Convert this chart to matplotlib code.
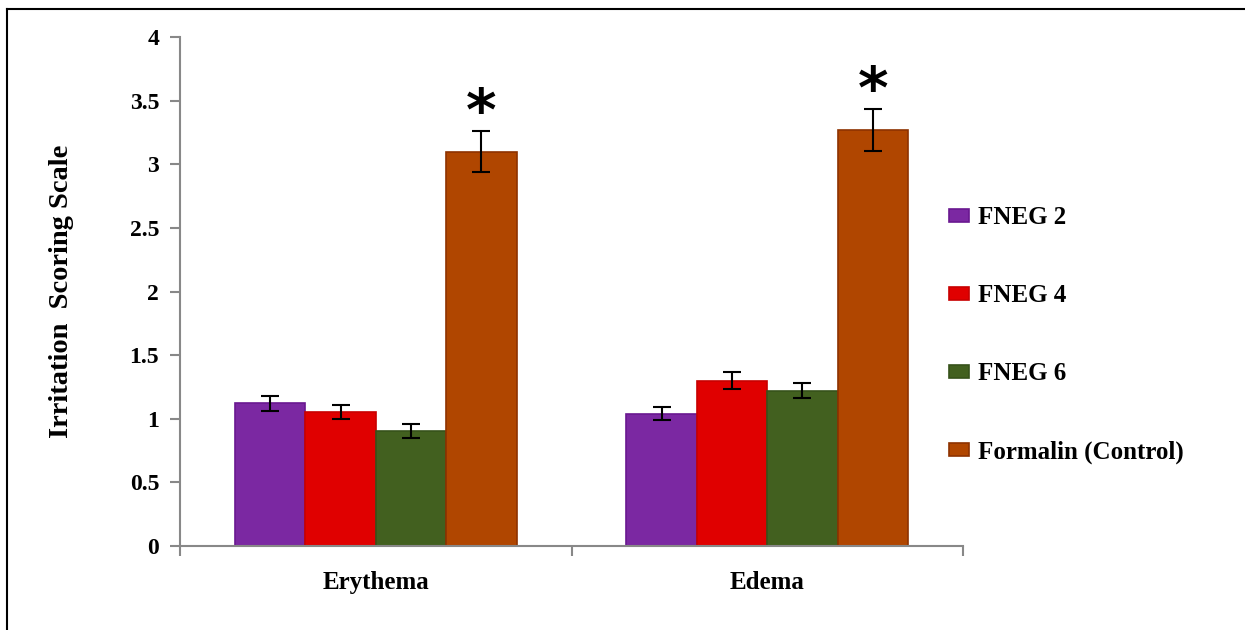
import numpy as np
import matplotlib
matplotlib.use('Agg')
import matplotlib.pyplot as plt
from matplotlib.lines import Line2D

categories = ['Erythema', 'Edema']
series = ['FNEG 2', 'FNEG 4', 'FNEG 6', 'Formalin (Control)']
values = {
    'FNEG 2': [1.12, 1.04],
    'FNEG 4': [1.05, 1.30],
    'FNEG 6': [0.90, 1.22],
    'Formalin (Control)': [3.10, 3.27],
}
errors = {
    'FNEG 2': [0.06, 0.05],
    'FNEG 4': [0.055, 0.07],
    'FNEG 6': [0.055, 0.06],
    'Formalin (Control)': [0.16, 0.165],
}
significant = ['Formalin (Control)']
yticks = [0, 0.5, 1, 1.5, 2, 2.5, 3, 3.5, 4]
ytick_labels = ['0', '0.5', '1', '1.5', '2', '2.5', '3', '3.5', '4']

colors = ['#7B28A2', '#E00000', '#42601F', '#B04600']
edges = ['#6A1890', '#C80000', '#36521A', '#8E3200']

plt.rcParams['font.family'] = ['Liberation Serif', 'DejaVu Serif']

fig = plt.figure(figsize=(12.45, 6.3), dpi=100)
ax = fig.add_axes([0.1446, 0.1333, 0.6289, 0.808])

x = np.arange(len(categories))
width = 0.18
for i, name in enumerate(series):
    pos = x + (i - 1.5) * width
    ax.bar(pos, values[name], width, color=colors[i], edgecolor=edges[i],
           linewidth=1.2, label=name, zorder=2)
    ax.errorbar(pos, values[name], yerr=errors[name], fmt='none', ecolor='black',
                elinewidth=1.5, capsize=6.5, capthick=1.5, zorder=3)
    if name in significant:
        for p, v, e in zip(pos, values[name], errors[name]):
            # significance star above the control bars
            ax.text(p, v + e + 0.14, '*', ha='center', va='center',
                    fontsize=42, fontweight='bold', family='DejaVu Sans', zorder=4)

ax.set_xlim(-0.5, 1.5)
ax.set_ylim(0, 4)
ax.set_yticks(yticks)
ax.set_yticklabels(ytick_labels, fontsize=17, fontweight='bold')
ax.set_xticks([-0.5, 0.5, 1.5])
ax.set_xticklabels([])
ax.set_xticks(x, minor=True)
ax.set_xticklabels(categories, minor=True, fontsize=18, fontweight='bold')
ax.tick_params(axis='x', which='minor', length=0, pad=18)
ax.tick_params(axis='x', which='major', length=7, width=1.5, color='#888888', direction='out')
ax.tick_params(axis='y', length=7, width=1.5, color='#888888', direction='out', pad=8)

for s in ['top', 'right']:
    ax.spines[s].set_visible(False)
for s in ['left', 'bottom']:
    ax.spines[s].set_color('#888888')
    ax.spines[s].set_linewidth(1.5)

ax.set_ylabel('Irritation  Scoring Scale', fontsize=20.5, fontweight='bold', labelpad=40)

leg = fig.legend(loc='center left', bbox_to_anchor=(0.744, 0.468), frameon=False,
                 prop={'size': 18, 'weight': 'bold'}, labelspacing=2.2,
                 handlelength=0.8, handleheight=0.45, handletextpad=0.35)

# frame lines on top and left edge of the picture
fig.add_artist(Line2D([7 / 1245, 1], [1 - 9 / 630, 1 - 9 / 630], color='black', lw=1.5))
fig.add_artist(Line2D([7 / 1245, 7 / 1245], [0, 1 - 9 / 630], color='black', lw=1.5))

fig.savefig('out.png', dpi=100)
